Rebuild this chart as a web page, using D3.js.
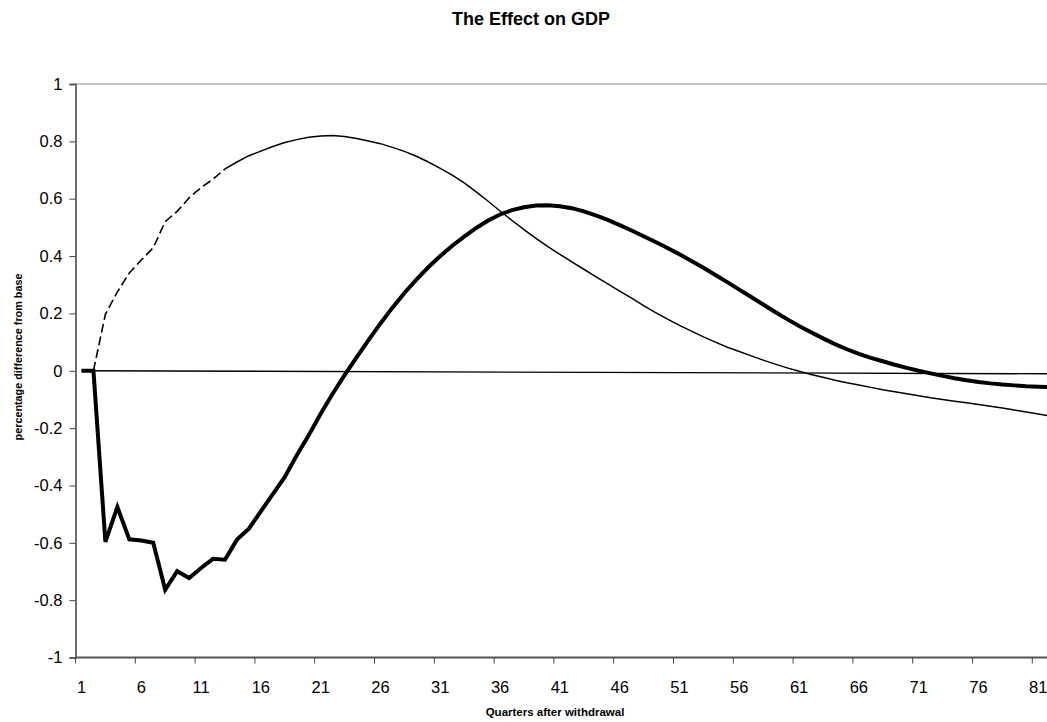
<!DOCTYPE html>
<html>
<head>
<meta charset="utf-8">
<script src="https://cdn.jsdelivr.net/npm/d3@7"></script>
<style>
  html, body { margin: 0; padding: 0; background: #fff; }
  svg { display: block; font-family: "Liberation Sans", Arial, sans-serif; }
</style>
</head>
<body>
<svg id="chart" width="1047" height="722"></svg>
<script>
// ---------- data ----------
const chartTitle = "The Effect on GDP";
const xTitle = "Quarters after withdrawal";
const yTitle = "percentage difference from base";

const quarters = d3.range(1, 84); // 1..83 (categories)

// thick series (large dip then hump)
const thickValues = [
  0, 0, -0.597, -0.475, -0.588, -0.592, -0.600, -0.764, -0.699, -0.723,
  -0.688, -0.656, -0.659, -0.589, -0.551, -0.490, -0.430, -0.370, -0.295, -0.225,
  -0.150, -0.080, -0.015, 0.047, 0.107, 0.165, 0.220, 0.271, 0.318, 0.361,
  0.400, 0.436, 0.468, 0.498, 0.524, 0.545, 0.560, 0.570, 0.576, 0.577,
  0.574, 0.567, 0.556, 0.542, 0.526, 0.508, 0.489, 0.469, 0.449, 0.428,
  0.406, 0.383, 0.359, 0.334, 0.309, 0.283, 0.257, 0.231, 0.205, 0.180,
  0.156, 0.134, 0.113, 0.093, 0.075, 0.059, 0.045, 0.033, 0.021, 0.010,
  0.000, -0.009, -0.018, -0.026, -0.033, -0.039, -0.044, -0.048, -0.051, -0.054,
  -0.056, -0.0575, -0.0585
];

// thin series (dashed for the first quarters, solid afterwards)
const thinValues = [
  0, 0, 0.197, 0.275, 0.341, 0.386, 0.429, 0.520, 0.556, 0.603,
  0.639, 0.668, 0.704, 0.728, 0.750, 0.766, 0.782, 0.796, 0.806, 0.814,
  0.819, 0.820, 0.817, 0.810, 0.801, 0.792, 0.779, 0.765, 0.748, 0.728,
  0.706, 0.682, 0.655, 0.624, 0.591, 0.557, 0.524, 0.492, 0.462, 0.433,
  0.406, 0.380, 0.354, 0.328, 0.303, 0.278, 0.253, 0.227, 0.203, 0.180,
  0.158, 0.138, 0.118, 0.100, 0.082, 0.067, 0.052, 0.037, 0.023, 0.010,
  -0.002, -0.013, -0.023, -0.033, -0.042, -0.050, -0.058, -0.066, -0.073, -0.080,
  -0.087, -0.094, -0.100, -0.106, -0.112, -0.118, -0.124, -0.130, -0.137, -0.144,
  -0.151, -0.158, -0.165
];
const thinDashedUntil = 13; // quarters drawn dashed

// near-zero reference line
const baseQuarters = [1, 83];
const baseValues = [0, -0.0107];

const yTicks = [1, 0.8, 0.6, 0.4, 0.2, 0, -0.2, -0.4, -0.6, -0.8, -1];
const xTickLabels = [1, 6, 11, 16, 21, 26, 31, 36, 41, 46, 51, 56, 61, 66, 71, 76, 81];

// ---------- layout ----------
const pLeft = 75.5, pTop = 84, pBottom = 657.5, pRight = 1047;
const step = 11.96;

const svg = d3.select("#chart");

const x = d3.scaleLinear().domain([0.5, 80.5]).range([pLeft, pLeft + 80 * step]);
const y = d3.scaleLinear().domain([-1, 1]).range([pBottom, pTop]);

svg.append("defs").append("clipPath").attr("id", "plotclip")
  .append("rect").attr("x", pLeft - 3).attr("y", pTop - 5).attr("width", pRight - pLeft + 3).attr("height", pBottom - pTop + 10);

// title
svg.append("text").attr("x", 531).attr("y", 25)
  .attr("text-anchor", "middle").attr("font-weight", "bold").attr("font-size", 18)
  .text(chartTitle);

// top border
svg.append("line").attr("x1", pLeft).attr("x2", pRight).attr("y1", pTop).attr("y2", pTop)
  .attr("stroke", "#8a8a8a").attr("stroke-width", 1.2);

// y axis
const yAxis = d3.axisLeft(y).tickValues(yTicks).tickSize(6).tickPadding(7)
  .tickFormat(d => String(d));
const gy = svg.append("g").attr("transform", `translate(${pLeft},0)`).call(yAxis);
gy.select(".domain").attr("stroke", "#6e6e6e").attr("stroke-width", 2);
gy.selectAll(".tick line").attr("stroke", "#444").attr("stroke-width", 1);
gy.selectAll(".tick text").attr("font-size", 16.5).attr("fill", "#000")
  .attr("font-family", "Liberation Sans, Arial, sans-serif");

// x axis: tick marks at category boundaries every 5, labels at category centres
const gx = svg.append("g");
gx.append("line").attr("x1", pLeft).attr("x2", pRight).attr("y1", pBottom).attr("y2", pBottom)
  .attr("stroke", "#555").attr("stroke-width", 2);
const tickBounds = xTickLabels.map(d => d - 0.5);
gx.selectAll("line.tk").data(tickBounds).enter().append("line").attr("class", "tk")
  .attr("x1", d => x(d)).attr("x2", d => x(d))
  .attr("y1", pBottom).attr("y2", pBottom + 6)
  .attr("stroke", "#444").attr("stroke-width", 1);
gx.selectAll("text.tl").data(xTickLabels).enter().append("text").attr("class", "tl")
  .attr("x", d => x(d)).attr("y", 693)
  .attr("text-anchor", "middle").attr("font-size", 16.5).text(d => d);

// axis titles
svg.append("text").attr("x", 555).attr("y", 716)
  .attr("text-anchor", "middle").attr("font-weight", "bold").attr("font-size", 11.5)
  .text(xTitle);
svg.append("text")
  .attr("transform", "translate(22,357) rotate(-90)")
  .attr("text-anchor", "middle").attr("font-weight", "bold").attr("font-size", 10.8)
  .text(yTitle);

// ---------- series ----------
const plot = svg.append("g").attr("clip-path", "url(#plotclip)");
const line = d3.line().x(d => x(d[0])).y(d => y(d[1]));

const thickPts = quarters.map((q, i) => [q, thickValues[i]]);
const thinPts = quarters.map((q, i) => [q, thinValues[i]]);

plot.append("path").datum(thickPts).attr("d", line)
  .attr("fill", "none").attr("stroke", "#000").attr("stroke-width", 4)
  .attr("stroke-linejoin", "miter");

plot.append("path").datum(thinPts.filter(d => d[0] >= 2 && d[0] <= thinDashedUntil)).attr("d", line)
  .attr("fill", "none").attr("stroke", "#000").attr("stroke-width", 1.6)
  .attr("stroke-dasharray", "9,4");
plot.append("path").datum(thinPts.filter(d => d[0] >= thinDashedUntil)).attr("d", line)
  .attr("fill", "none").attr("stroke", "#000").attr("stroke-width", 1.5);

plot.append("path").datum(baseQuarters.map((q, i) => [q, baseValues[i]])).attr("d", line)
  .attr("fill", "none").attr("stroke", "#000").attr("stroke-width", 1.4);
</script>
</body>
</html>
